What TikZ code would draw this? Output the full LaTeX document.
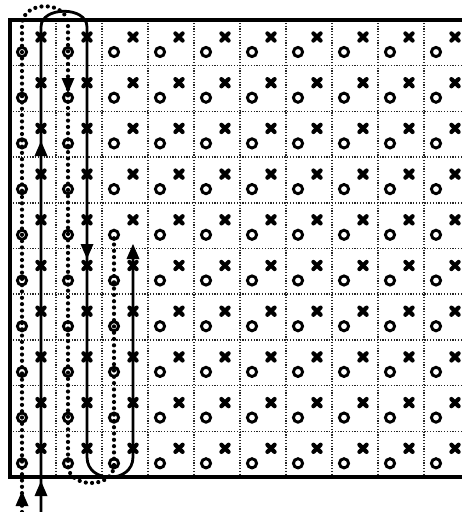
\documentclass[tikz,border=0pt]{standalone}
\begin{document}
\begin{tikzpicture}[x=1pt,y=-1pt,
  griddot/.style={line width=1.5pt, dash pattern=on 1.2pt off 1.6pt, draw=black!85},
  omark/.style={line width=2.9pt},
  xmark/.style={line width=4.2pt, line cap=round},
  frame/.style={line width=4.5pt},
  heavydot/.style={line width=4.2pt, dash pattern=on 0pt off 6.3pt, line cap=round},
  solidpath/.style={line width=2.8pt},
  uptri/.pic={\fill (0,0) -- (-6.5,15) -- (6.5,15) -- cycle;},
  downtri/.pic={\fill (0,0) -- (-6.5,-15) -- (6.5,-15) -- cycle;}]
\useasboundingbox (0,0) rectangle (462,512);
\clip (0,0) rectangle (462,512);
% grid
\foreach \i in {1,...,9} \draw[griddot] ({10+46*\i},20) -- ({10+46*\i},477);
\foreach \j in {1,...,9} \draw[griddot] (10,{20+45.7*\j}) -- (470,{20+45.7*\j});
% marks
\foreach \i in {0,...,9} {
  \foreach \j in {0,...,9} {
    \draw[omark] ({22+46*\i},{52+45.7*\j}) circle[radius=4.6pt];
    \draw[xmark] ({41+46*\i-3.6},{37+45.7*\j-3.6}) -- ({41+46*\i+3.6},{37+45.7*\j+3.6});
    \draw[xmark] ({41+46*\i-3.6},{37+45.7*\j+3.6}) -- ({41+46*\i+3.6},{37+45.7*\j-3.6});
  }
}
% frame
\draw[frame] (470,20) -- (10,20) -- (10,477) -- (470,477);
% dotted path
\draw[heavydot] (22,512) -- (22,25) .. controls (22,0) and (68,0) .. (68,25) -- (68,465) .. controls (68,489) and (114,489) .. (114,465) -- (114,235);
% solid path
\draw[solidpath] (41,512) -- (41,27) .. controls (41,6) and (87,6) .. (87,27) -- (87,457) .. controls (87,484) and (133,484) .. (133,457) -- (133,250);
% arrowheads
\pic at (22,491) {uptri};
\pic at (41,481) {uptri};
\pic at (41,141) {uptri};
\pic at (68,93) {downtri};
\pic at (87,259) {downtri};
\pic at (133,244) {uptri};
\end{tikzpicture}
\end{document}
